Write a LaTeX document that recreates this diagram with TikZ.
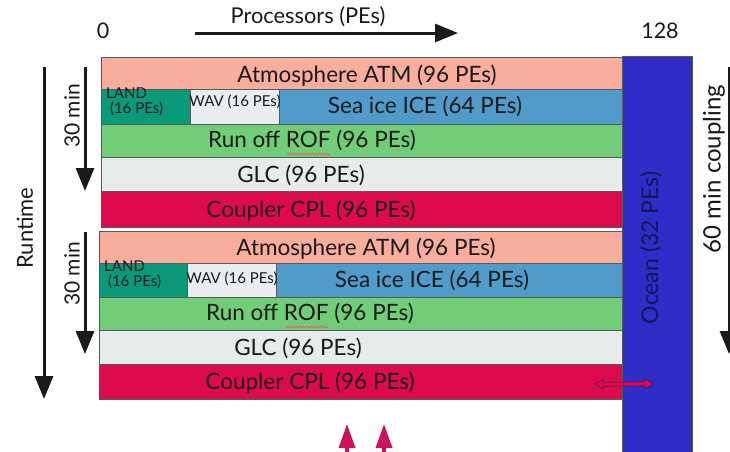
\documentclass[tikz,border=0pt]{standalone}
\usepackage{fontspec}
\setmainfont{Lato}
\usetikzlibrary{arrows.meta,decorations.pathmorphing}

\definecolor{atmc}{HTML}{F8AD9D}
\definecolor{landc}{HTML}{0A9A7A}
\definecolor{wavc}{HTML}{E9EDF0}
\definecolor{icec}{HTML}{519BCB}
\definecolor{rofc}{HTML}{72CD78}
\definecolor{glcc}{HTML}{E6EBEB}
\definecolor{cplc}{HTML}{DD0A4E}
\definecolor{ocnc}{HTML}{2E2DC7}
\definecolor{edgec}{HTML}{555A5C}
\definecolor{inkc}{HTML}{1A1A1A}
\definecolor{navyc}{HTML}{15154F}
\definecolor{markc}{HTML}{C8145A}

\tikzset{
  box/.style={draw=edgec, line width=0.9pt, inner sep=0pt, outer sep=0pt, anchor=north west},
  lbl/.style={text=inkc, inner sep=0pt, font=\fontsize{22.5}{26}\selectfont},
  small/.style={text=inkc, inner sep=0pt, font=\fontsize{15}{17}\selectfont},
  axis/.style={draw=inkc, line width=3pt, -{Triangle[length=23pt,width=18pt]}},
  squiggle/.style={draw=red!70!white, line width=0.6pt, decorate,
    decoration={snake, segment length=3.5pt, amplitude=1pt}},
}

\begin{document}
\begin{tikzpicture}[x=1pt, y=-1pt]
\clip (0,0) rectangle (730,451);
\fill[white] (0,0) rectangle (730,451);

% ocean column
\node[box, fill=ocnc, minimum width=70pt, minimum height=400pt] (ocn) at (622,56) {};
\node[text=navyc, inner sep=0pt, rotate=90, font=\fontsize{23}{26}\selectfont] (ocnt) at (651,248) {Ocean (32 PEs)};

% first coupling interval
\node[box, fill=atmc, minimum width=521pt, minimum height=32pt] (atmA) at (101,57) {};
\node[box, fill=landc, minimum width=89pt, minimum height=35pt] (landA) at (101,89) {};
\node[box, fill=wavc, minimum width=89pt, minimum height=35pt] (wavA) at (190,89) {};
\node[box, fill=icec, minimum width=343pt, minimum height=35pt] (iceA) at (279,89) {};
\node[box, fill=rofc, minimum width=521pt, minimum height=33pt] (rofA) at (101,124) {};
\node[box, fill=glcc, minimum width=521pt, minimum height=34pt] (glcA) at (101,157) {};
\node[box, fill=cplc, minimum width=521pt, minimum height=36pt] (cplA) at (101,191) {};

\node[lbl] (atmAt) at (367,76) {Atmosphere ATM (96 PEs)};
\node[small, align=left, anchor=north west] (landAt) at (106,88) {LAND\\[-2pt]\ (16 PEs)};
\node[small] (wavAt) at (235,102) {WAV (16 PEs)};
\node[lbl] (iceAt) at (425,106) {Sea ice ICE (64 PEs)};
\node[lbl] (rofAt) at (312,140) {Run off ROF (96 PEs)};
\node[lbl] (glcAt) at (301,175) {GLC (96 PEs)};
\node[lbl] (cplAt) at (311,211) {Coupler CPL (96 PEs)};
\draw[squiggle] (287,154) -- (330,154);

% second coupling interval
\node[box, fill=atmc, minimum width=523pt, minimum height=32pt] (atmB) at (99,231) {};
\node[box, fill=landc, minimum width=88pt, minimum height=34pt] (landB) at (99,263) {};
\node[box, fill=wavc, minimum width=89pt, minimum height=34pt] (wavB) at (187,263) {};
\node[box, fill=icec, minimum width=346pt, minimum height=34pt] (iceB) at (276,263) {};
\node[box, fill=rofc, minimum width=523pt, minimum height=33pt] (rofB) at (99,297) {};
\node[box, fill=glcc, minimum width=523pt, minimum height=34pt] (glcB) at (99,330) {};
\node[box, fill=cplc, minimum width=523pt, minimum height=35pt] (cplB) at (99,364) {};

\node[lbl] (atmBt) at (366,249) {Atmosphere ATM (96 PEs)};
\node[small, align=left, anchor=north west] (landBt) at (104,261) {LAND\\[-2pt]\ (16 PEs)};
\node[small] (wavBt) at (232,279) {WAV (16 PEs)};
\node[lbl] (iceBt) at (432,280) {Sea ice ICE (64 PEs)};
\node[lbl] (rofBt) at (310,313) {Run off ROF (96 PEs)};
\node[lbl] (glcBt) at (298,348) {GLC (96 PEs)};
\node[lbl] (cplBt) at (310,383) {Coupler CPL (96 PEs)};
\draw[squiggle] (285,327) -- (328,327);

% exchange between coupler and ocean
\coordinate (xL) at (595,384);
\coordinate (xR) at (653,384);
\fill[cplc, draw=navyc!60!cplc, line width=0.8pt, line join=round]
  (xL) -- ++(8,-4.5) -- ++(0,2.7) -- (645,381.8) -- ++(0,-2.7) -- (xR)
  -- ++(-8,4.5) -- ++(0,-2.7) -- (603,386.2) -- ++(0,2.7) -- cycle;

% processor axis
\node[lbl, font=\fontsize{21.5}{24}\selectfont] (zero) at (103,31) {0};
\node[lbl, font=\fontsize{21.5}{24}\selectfont] (p128) at (660,31) {128};
\node[lbl, font=\fontsize{21.8}{24}\selectfont] (proc) at (308,17) {Processors (PEs)};
\coordinate (pS) at (195,33);
\coordinate (pE) at (458,33);
\draw[axis] (pS) -- (pE);

% runtime axis
\coordinate (rS) at (44,67);
\coordinate (rE) at (44,399);
\draw[axis] (rS) -- (rE);
\node[lbl, rotate=90, font=\fontsize{22}{24}\selectfont] (rt) at (25,228) {Runtime};

% 30 min intervals
\coordinate (aS) at (85,67);
\coordinate (aE) at (85,191);
\draw[axis] (aS) -- (aE);
\node[lbl, rotate=90, font=\fontsize{21}{24}\selectfont] (amin) at (72,116) {30 min};
\coordinate (bS) at (85,232);
\coordinate (bE) at (85,354);
\draw[axis] (bS) -- (bE);
\node[lbl, rotate=90, font=\fontsize{21}{24}\selectfont] (bmin) at (72,274) {30 min};

% coupling interval on the right
\coordinate (cS) at (729,67);
\coordinate (cE) at (729,354);
\draw[axis] (cS) -- (cE);
\node[lbl, rotate=90, font=\fontsize{24}{26}\selectfont] (cpl60) at (714,169) {60 min coupling};

% markers below
\coordinate (m1S) at (347,460);
\coordinate (m1E) at (347,424);
\coordinate (m2S) at (384,460);
\coordinate (m2E) at (384,424);
\draw[draw=markc, line width=3.5pt, -{Triangle[length=24pt,width=16pt]}] (m1S) -- (m1E);
\draw[draw=markc, line width=3.5pt, -{Triangle[length=24pt,width=16pt]}] (m2S) -- (m2E);
\end{tikzpicture}
\end{document}
